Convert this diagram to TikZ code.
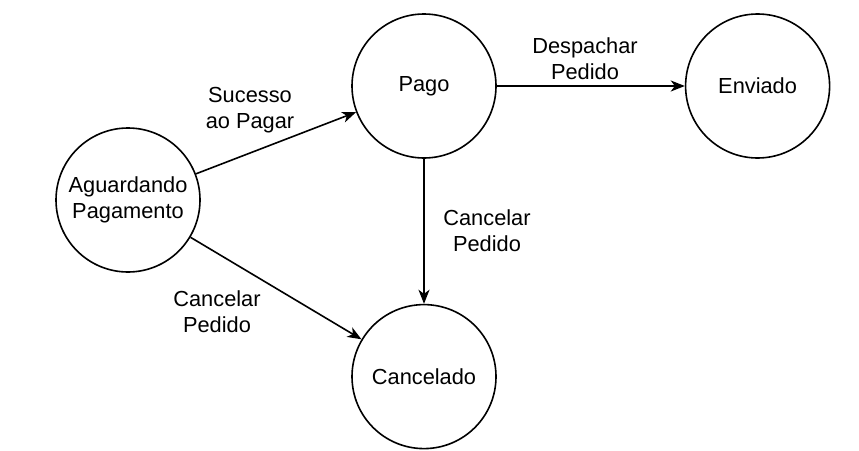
\documentclass[tikz,border=0pt]{standalone}
\usepackage{fontspec}
\setmainfont{Liberation Sans}
\usepackage{xcolor}
\usepackage{tikz}
\usetikzlibrary{arrows.meta,positioning}
\definecolor{EstInk}{HTML}{000000}
\definecolor{EstWhite}{RGB}{255,255,255}
\colorlet{EstLine}{EstInk}
\colorlet{EstFill}{EstWhite}

\begin{document}
\begin{tikzpicture}[x=1pt, y=-1pt,
    estado/.style={circle, draw=EstLine, fill=EstFill, line width=1.6pt,
      minimum size=144pt, inner sep=0pt, align=center,
      font=\fontsize{21.8pt}{26pt}\selectfont},
    rotulo/.style={align=center, inner sep=0pt,
      font=\fontsize{21.8pt}{26pt}\selectfont},
    trans/.style={draw=EstLine, line width=1.6pt,
      -{Stealth[length=14pt, width=11pt, inset=4pt]}}]
  \useasboundingbox (0,0) rectangle (859,450);

  % estados
  \node[estado] (aguardando) at (128,200) {Aguardando\\Pagamento};
  \node[estado] (pago) at (424,86) {Pago};
  \node[estado, right=188pt of pago] (enviado) {Enviado};
  \node[estado, below=145pt of pago] (cancelado) {Cancelado};

  % transicoes
  \draw[trans] (aguardando) -- (pago);
  \draw[trans] (aguardando) -- (cancelado);
  \draw[trans] (pago) -- (cancelado);
  \draw[trans] (pago) -- (enviado);

  \node[rotulo] (lsucesso) at (250,110) {Sucesso\\ao Pagar};
  \node[rotulo] (lcancela) at (217,312) {Cancelar\\Pedido};
  \node[rotulo] (lcancelb) at (487,231) {Cancelar\\Pedido};
  \node[rotulo] (ldespacha) at (585,59) {Despachar\\Pedido};
\end{tikzpicture}
\end{document}
